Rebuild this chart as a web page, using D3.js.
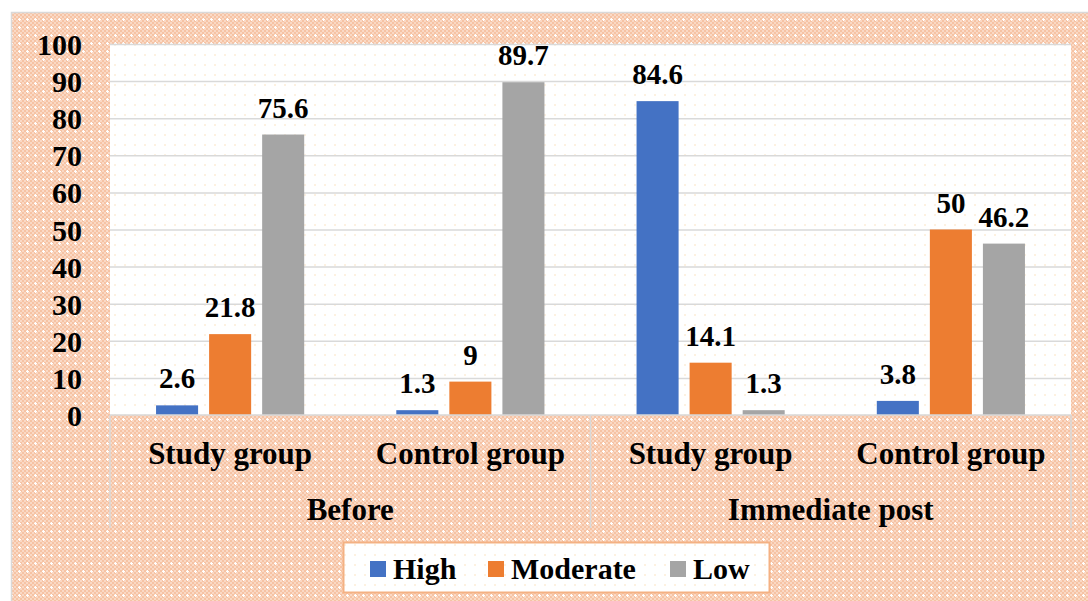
<!DOCTYPE html>
<html>
<head>
<meta charset="utf-8">
<script src="https://cdn.jsdelivr.net/npm/d3@7"></script>
<style>
  html, body { margin: 0; padding: 0; background: #ffffff; }
  svg { display: block; }
  svg text { font-family: 'Liberation Serif', 'Times New Roman', Times, 'DejaVu Serif', serif; font-weight: bold; fill: #000; }
</style>
</head>
<body>
<svg id="chart" width="1088" height="601"></svg>
<script>
// Knowledge level by group and phase (%)
const phases = ["Before", "Immediate post"];
const groupNames = ["Study group", "Control group"];
const seriesNames = ["High", "Moderate", "Low"];
const seriesColors = ["#4472C4", "#ED7D31", "#A5A5A5"];
const highValues = [2.6, 1.3, 84.6, 3.8];
const moderateValues = [21.8, 9, 14.1, 50];
const lowValues = [75.6, 89.7, 1.3, 46.2];
const yTicks = [0, 10, 20, 30, 40, 50, 60, 70, 80, 90, 100];

const FONT = "'Liberation Serif', 'Times New Roman', Times, 'DejaVu Serif', serif";

const categories = [];
phases.forEach(p => groupNames.forEach(g => categories.push({ phase: p, group: g, key: p + "|" + g })));
const seriesValues = [highValues, moderateValues, lowValues];

const svg = d3.select("#chart");
const defs = svg.append("defs");

// Peach texture with white crosses for the chart background
const tex = defs.append("pattern").attr("id", "peachTex")
  .attr("patternUnits", "userSpaceOnUse").attr("width", 8).attr("height", 8);
tex.append("rect").attr("width", 8).attr("height", 8).attr("fill", "#F6C3A4");
[[0,0],[2,2],[4,0],[6,2],[0,4],[2,6],[4,4],[6,6]].forEach(([x, y]) =>
  tex.append("rect").attr("x", x).attr("y", y).attr("width", 2).attr("height", 2).attr("fill", "#FAD9C5"));
tex.append("rect").attr("x", 3).attr("y", 2).attr("width", 1).attr("height", 3).attr("fill", "#ffffff");
tex.append("rect").attr("x", 2).attr("y", 3).attr("width", 3).attr("height", 1).attr("fill", "#ffffff");

// Faint dotted fill for the plot area and legend
const dots = defs.append("pattern").attr("id", "dotTex")
  .attr("patternUnits", "userSpaceOnUse").attr("width", 10).attr("height", 10);
dots.append("rect").attr("width", 10).attr("height", 10).attr("fill", "#ffffff");
dots.append("rect").attr("x", 4).attr("y", 4).attr("width", 2).attr("height", 2).attr("fill", "#FDF1E0");

// Chart area
svg.append("rect").attr("x", 11.5).attr("y", 12.5).attr("width", 1100).attr("height", 620)
  .attr("fill", "url(#peachTex)").attr("stroke", "#D9D9D9").attr("stroke-width", 1.5);

const plot = { left: 110, right: 1071, top: 44, bottom: 415 };

svg.append("rect").attr("x", plot.left).attr("y", plot.top)
  .attr("width", plot.right - plot.left).attr("height", plot.bottom - plot.top)
  .attr("fill", "url(#dotTex)");

const y = d3.scaleLinear().domain([0, 100]).range([plot.bottom, plot.top]);
const x0 = d3.scaleBand().domain(categories.map(c => c.key)).range([plot.left, plot.right]).padding(0);
const x1 = d3.scaleBand().domain(seriesNames).range([0, x0.bandwidth()])
  .paddingInner(0.2075).paddingOuter(0.868);
const xPhase = d3.scaleBand().domain(phases).range([plot.left, plot.right]).padding(0);

// Gridlines and value axis labels
const yAxis = d3.axisLeft(y).tickValues(yTicks).tickSize(-(plot.right - plot.left)).tickFormat(d3.format("d"));
const gy = svg.append("g").attr("transform", `translate(${plot.left},0)`).call(yAxis);
gy.attr("font-family", null).attr("font-size", null);
gy.select(".domain").remove();
gy.selectAll(".tick line").attr("stroke", "#D9D9D9").attr("stroke-width", 1.5)
  .filter(d => d === 0).remove();
gy.selectAll(".tick text").attr("x", -28).attr("dy", "0.35em")
  .style("font-family", FONT).style("font-weight", "bold")
  .style("font-size", "30px").attr("fill", "#000");

// Bars with value labels
categories.forEach((c, i) => {
  const g = svg.append("g").attr("transform", `translate(${x0(c.key)},0)`);
  seriesNames.forEach((s, si) => {
    const v = seriesValues[si][i];
    g.append("rect")
      .attr("x", x1(s)).attr("y", y(v))
      .attr("width", x1.bandwidth()).attr("height", y(0) - y(v))
      .attr("fill", seriesColors[si]);
    g.append("text")
      .attr("x", x1(s) + x1.bandwidth() / 2).attr("y", y(v) - 17)
      .attr("text-anchor", "middle")
      .style("font-family", FONT).style("font-size", "29px")
      .text(v);
  });
});

// Category axis line
svg.append("line").attr("x1", plot.left).attr("x2", plot.right)
  .attr("y1", plot.bottom).attr("y2", plot.bottom)
  .attr("stroke", "#D9D9D9").attr("stroke-width", 1.5);

// Phase separators
const seps = [plot.left].concat(phases.map(p => xPhase(p) + xPhase.bandwidth()));
svg.selectAll(".sep").data(seps).enter().append("line")
  .attr("x1", d => d).attr("x2", d => d)
  .attr("y1", plot.bottom).attr("y2", 528)
  .attr("stroke", "#D9D9D9").attr("stroke-width", 1.5);

// Group labels
svg.selectAll(".grp").data(categories).enter().append("text")
  .attr("x", d => x0(d.key) + x0.bandwidth() / 2).attr("y", 464)
  .attr("text-anchor", "middle")
  .style("font-family", FONT).style("font-size", "31px")
  .text(d => d.group);

// Phase labels
svg.selectAll(".phase").data(phases).enter().append("text")
  .attr("x", d => xPhase(d) + xPhase.bandwidth() / 2).attr("y", 520)
  .attr("text-anchor", "middle")
  .style("font-family", FONT).style("font-size", "31px")
  .text(d => d);

// Legend
const legend = svg.append("g");
legend.append("rect").attr("x", 343.5).attr("y", 542.5).attr("width", 426).attr("height", 50)
  .attr("fill", "url(#dotTex)").attr("stroke", "#F4B183").attr("stroke-width", 2);
const legendX = [370, 488, 670];
seriesNames.forEach((s, i) => {
  legend.append("rect").attr("x", legendX[i]).attr("y", 561).attr("width", 16).attr("height", 16)
    .attr("fill", seriesColors[i]);
  legend.append("text").attr("x", legendX[i] + 23).attr("y", 579)
    .style("font-family", FONT).style("font-size", "30px").text(s);
});
</script>
</body>
</html>
